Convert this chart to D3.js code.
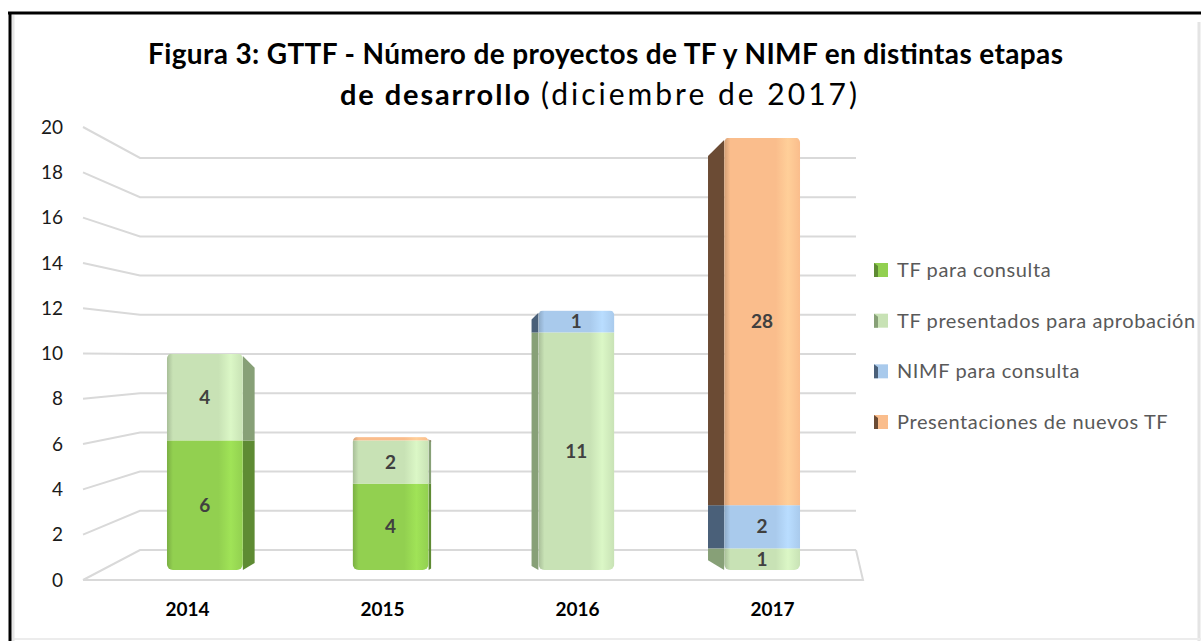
<!DOCTYPE html>
<html>
<head>
<meta charset="utf-8">
<style>
  body { margin: 0; background: #fff; }
  text { font-family: Lato, "Open Sans", sans-serif; }
</style>
</head>
<body>
<svg width="1201" height="641"></svg>
<script src="https://cdnjs.cloudflare.com/ajax/libs/d3/7.8.5/d3.min.js"></script>
<script>

// data
var years = ["2014", "2015", "2016", "2017"];
var seriesNames = ["TF para consulta", "TF presentados para aprobación", "NIMF para consulta", "Presentaciones de nuevos TF"];
var tfConsulta = [6, 4, 0, 0];
var tfPresentados = [4, 2, 11, 1];
var nimfConsulta = [0, 0, 1, 2];
var nuevosTF = [0, 0.15, 0, 28];
var yTicks = [0, 2, 4, 6, 8, 10, 12, 14, 16, 18, 20];

var keys = ["tfConsulta", "tfPresentados", "nimfConsulta", "nuevosTF"];
var colors = ["#92d050", "#c8e2b5", "#a9caec", "#fabd8c"];
var sideColors = ["#5e8b33", "#87a077", "#4a6079", "#6b4b34"];

var svg = d3.select("svg"),
    defs = svg.append("defs");

var table = years.map(function(y, i) {
  return { year: y, tfConsulta: tfConsulta[i], tfPresentados: tfPresentados[i],
           nimfConsulta: nimfConsulta[i], nuevosTF: nuevosTF[i] };
});
var stacked = d3.stack().keys(keys)(table);

// perspective: front edge, back wall and the bars' own plane
var yFront = d3.scaleLinear().domain([0, 20]).range([580, 127]);
var yBack = d3.scaleLinear().domain([0, 20]).range([550, 158]);
var yBar = d3.scaleLinear().domain([0, 20]).range([570, 138]).clamp(true);
var xBar = d3.scaleBand().domain(years).range([112, 855]);
var xLabel = d3.scaleBand().domain(years).range([90, 870]);
var frontLeft = 83, backLeft = 140, backRight = 856, frontRight = 863;
var vanish = 440, depthK = 0.05, barW = 76;

// frame
svg.append("line").attr("x1", 1199).attr("x2", 1199).attr("y1", 22).attr("y2", 641)
    .attr("stroke", "#e4e4e4").attr("stroke-width", 3);
svg.append("line").attr("x1", 10).attr("x2", 1201).attr("y1", 639).attr("y2", 639)
    .attr("stroke", "#ececec").attr("stroke-width", 2);
svg.append("line").attr("x1", 13).attr("x2", 13).attr("y1", 15).attr("y2", 641)
    .attr("stroke", "#e6e6e6").attr("stroke-width", 3);
svg.append("line").attr("x1", 8).attr("x2", 1201).attr("y1", 13).attr("y2", 13)
    .attr("stroke", "#000").attr("stroke-width", 3);
svg.append("line").attr("x1", 10).attr("x2", 10).attr("y1", 12).attr("y2", 641)
    .attr("stroke", "#000").attr("stroke-width", 3);

// title
svg.append("text")
    .attr("x", 148).attr("y", 64)
    .attr("font-size", 28).attr("font-weight", "bold").attr("fill", "#000")
    .attr("textLength", 915).attr("lengthAdjust", "spacing")
    .text("Figura 3: GTTF - Número de proyectos de TF y NIMF en distintas etapas");
svg.append("text")
    .attr("x", 340).attr("y", 105)
    .attr("font-size", 29).attr("font-weight", "bold").attr("fill", "#000")
    .attr("textLength", 190).attr("lengthAdjust", "spacing")
    .text("de desarrollo");
svg.append("text")
    .attr("x", 541).attr("y", 105)
    .attr("font-size", 30).attr("fill", "#000")
    .attr("textLength", 316).attr("lengthAdjust", "spacing")
    .text("(diciembre de 2017)");

// gridlines with the bent left wall
var line = d3.line();
svg.append("g").selectAll("path")
  .data(yTicks)
  .enter().append("path")
    .attr("fill", "none")
    .attr("stroke", "#d9d9d9")
    .attr("stroke-width", 2)
    .attr("d", function(t) {
      return line([[frontLeft, yFront(t)], [backLeft, yBack(t)], [backRight, yBack(t)]]);
    });
svg.append("path")
    .attr("fill", "none").attr("stroke", "#d9d9d9").attr("stroke-width", 2)
    .attr("d", line([[frontLeft, yFront(0)], [frontRight, yFront(0)], [backRight, yBack(0)]]));

svg.append("g").selectAll("text")
  .data(yTicks)
  .enter().append("text")
    .attr("x", 63)
    .attr("y", function(t) { return yFront(t); })
    .attr("dy", "0.35em")
    .attr("text-anchor", "end")
    .attr("font-size", 19)
    .attr("fill", "#1a1a1a")
    .text(function(t) { return t; });

// gradients for front faces
colors.forEach(function(c, i) {
  var g = defs.append("linearGradient").attr("id", "grad" + i)
      .attr("x1", 0).attr("x2", 1).attr("y1", 0).attr("y2", 0);
  var stops = [[0, d3.color(c).darker(0.5)], [0.08, d3.color(c)], [0.68, d3.color(c)],
               [0.84, d3.color(c).brighter(0.25)], [1, d3.color(c)]];
  stops.forEach(function(s) {
    g.append("stop").attr("offset", s[0]).attr("stop-color", s[1]);
  });
});

// bars
var bars = svg.append("g");
years.forEach(function(year, i) {
  var cx = xBar(year) + xBar.bandwidth() / 2,
      s = (cx - vanish) * depthK,
      w = Math.abs(s),
      edge = s < 0 ? cx + barW / 2 : cx - barW / 2,
      dir = s < 0 ? 1 : -1,
      total = d3.sum(keys, function(k) { return table[i][k]; });

  defs.append("clipPath").attr("id", "clip" + i)
    .append("rect")
      .attr("x", cx - barW / 2).attr("width", barW)
      .attr("y", yBar(total) - 1).attr("height", yBar(0) - yBar(total) + 1)
      .attr("rx", 6);

  var bg = bars.append("g");
  stacked.forEach(function(layer, k) {
    var d = layer[i], top = yBar(d[1]), bot = yBar(d[0]);
    if (d[1] - d[0] <= 0 || bot - top <= 0) return;
    var isTop = d[1] >= total - 1e-9, isBottom = d[0] === 0;
    if (bot - top > 2) {
      bg.append("path")
          .attr("fill", sideColors[k])
          .attr("d", line([[edge, top + (isTop ? 2 : 0)], [edge + dir * w, top + (isTop ? w + 2 : 0)],
                           [edge + dir * w, bot - (isBottom ? w * 0.6 : 0)], [edge, bot]]) + "Z");
    }
    bg.append("rect")
        .attr("clip-path", "url(#clip" + i + ")")
        .attr("x", cx - barW / 2).attr("width", barW)
        .attr("y", top).attr("height", Math.max(bot - top, 3))
        .attr("fill", "url(#grad" + k + ")");
  });

  stacked.forEach(function(layer, k) {
    var d = layer[i];
    if (d[1] - d[0] < 1) return;
    bg.append("text")
        .attr("x", cx)
        .attr("y", (yBar(d[0]) + yBar(d[1])) / 2)
        .attr("dy", "0.35em")
        .attr("text-anchor", "middle")
        .attr("font-size", 19)
        .attr("font-weight", "bold")
        .attr("fill", "#404040")
        .text(d.data[keys[k]]);
  });
});

// category labels
svg.append("g").selectAll("text")
  .data(years)
  .enter().append("text")
    .attr("x", function(d) { return xLabel(d) + xLabel.bandwidth() / 2; })
    .attr("y", 616)
    .attr("text-anchor", "middle")
    .attr("font-size", 19)
    .attr("font-weight", "bold")
    .attr("fill", "#000")
    .text(function(d) { return d; });

// legend
defs.append("clipPath").attr("id", "legendClip")
  .append("rect").attr("x", 0).attr("y", 0).attr("width", 1197).attr("height", 641);
var yLegend = d3.scalePoint().domain(seriesNames).range([270, 422]);
var legend = svg.append("g").attr("clip-path", "url(#legendClip)")
  .selectAll("g")
  .data(seriesNames)
  .enter().append("g")
    .attr("transform", function(d) { return "translate(874," + yLegend(d) + ")"; });
legend.append("rect")
    .attr("x", 0).attr("y", -7).attr("width", 14).attr("height", 14)
    .attr("fill", function(d, i) { return colors[i]; });
legend.append("path")
    .attr("fill", function(d, i) { return sideColors[i]; })
    .attr("d", "M0,-7L4,-4L4,7L0,7Z");
legend.append("text")
    .attr("x", 23)
    .attr("dy", "0.35em")
    .attr("font-size", 20)
    .attr("letter-spacing", 0.6)
    .attr("fill", "#595959")
    .text(function(d) { return d; });

</script>
</body>
</html>
